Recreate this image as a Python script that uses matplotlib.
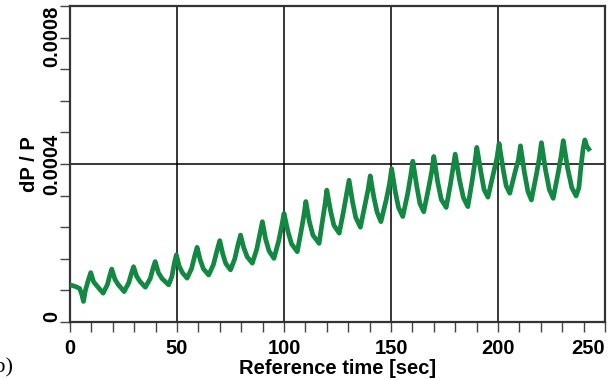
import matplotlib
matplotlib.use("Agg")
import matplotlib.pyplot as plt
from matplotlib.ticker import MultipleLocator, FixedLocator
import numpy as np

# Reference time [sec]
time_s = [
    0, 2.5, 4.5, 5.5, 6.3, 7.2, 8.5, 9.7, 11.0, 12.5, 15.5,
    17.5, 18.7, 19.5, 21.0, 22.5, 25.3,
    27.5, 28.8, 29.7, 31.2, 32.8, 35.2,
    37.5, 38.9, 39.8, 41.3, 43.0, 46.1,
    47.6, 48.8, 49.7, 51.0, 52.5, 54.7,
    56.8, 58.4, 59.4, 60.8, 62.3, 64.8,
    67.0, 68.9, 70.0, 71.4, 72.8, 75.0,
    77.0, 78.7, 79.7, 81.2, 82.8, 85.2,
    87.3, 88.8, 89.9, 91.4, 93.0, 95.3,
    97.5, 99.0, 100.0, 101.8, 103.5, 106.2,
    108.0, 109.3, 110.2, 111.8, 113.5, 116.4,
    117.8, 119.1, 120.0, 121.8, 123.3, 125.8,
    127.8, 129.3, 130.4, 132.0, 133.5, 135.7,
    137.8, 139.3, 140.3, 142.0, 143.5, 145.3,
    147.8, 149.3, 150.3, 152.0, 153.5, 155.5,
    157.8, 159.2, 160.2, 162.0, 163.5, 165.3,
    167.6, 169.0, 170.0, 171.8, 173.5, 175.8,
    177.8, 179.0, 180.0, 182.0, 183.8, 185.9,
    188.0, 189.2, 190.1, 192.0, 193.5, 195.3,
    198.0, 199.5, 200.5, 202.3, 203.8, 205.5,
    208.0, 209.5, 210.5, 212.3, 214.0, 215.6,
    218.0, 219.3, 220.3, 222.2, 224.0, 225.8,
    228.2, 229.5, 230.5, 232.5, 234.5, 236.5,
    237.8, 238.7, 239.8, 240.6, 241.5, 242.4,
]

# dP / P in units of 1e-4
dp_p_e4 = [
    0.94, 0.90, 0.85, 0.70, 0.52, 0.80, 1.05, 1.25, 1.02, 0.92, 0.73,
    0.95, 1.20, 1.34, 1.08, 0.95, 0.77,
    1.00, 1.25, 1.40, 1.15, 1.02, 0.88,
    1.10, 1.38, 1.53, 1.25, 1.10, 0.94,
    1.15, 1.50, 1.70, 1.42, 1.25, 1.11,
    1.35, 1.70, 1.89, 1.58, 1.35, 1.19,
    1.45, 1.85, 2.06, 1.72, 1.48, 1.32,
    1.60, 2.00, 2.20, 1.88, 1.65, 1.49,
    1.85, 2.25, 2.54, 2.10, 1.80, 1.61,
    2.05, 2.45, 2.75, 2.30, 1.98, 1.78,
    2.30, 2.70, 3.05, 2.55, 2.20, 1.99,
    2.50, 2.95, 3.34, 2.80, 2.45, 2.25,
    2.80, 3.25, 3.59, 3.05, 2.65, 2.40,
    2.95, 3.35, 3.70, 3.15, 2.78, 2.54,
    3.10, 3.50, 3.88, 3.30, 2.90, 2.67,
    3.25, 3.70, 4.07, 3.45, 3.00, 2.79,
    3.40, 3.80, 4.19, 3.55, 3.10, 2.90,
    3.50, 3.90, 4.25, 3.60, 3.15, 2.92,
    3.60, 4.05, 4.42, 3.80, 3.35, 3.16,
    3.80, 4.15, 4.52, 3.90, 3.45, 3.26,
    3.80, 4.10, 4.46, 3.80, 3.30, 3.09,
    3.75, 4.15, 4.54, 3.85, 3.35, 3.13,
    3.80, 4.20, 4.59, 3.90, 3.40, 3.19,
    3.40, 3.90, 4.40, 4.61, 4.45, 4.38,
]

x_major = [0, 50, 100, 150, 200, 250]
y_major = [0, 0.0004, 0.0008]
y_tick_labels = ["0", "0.0004", "0.0008"]

FONT = ["Liberation Sans", "DejaVu Sans"]
plt.rcParams["font.family"] = FONT
plt.rcParams["font.weight"] = "bold"

fig = plt.figure(figsize=(6.10, 3.80), dpi=100)
ax = fig.add_axes([70 / 610, 1 - 322 / 380, 535 / 610, 316 / 380])

ax.plot(time_s, np.array(dp_p_e4) * 1e-4, color="#138843", lw=3.4,
        solid_joinstyle="round", zorder=3)

ax.set_xlim(0, 250)
ax.set_ylim(0, 0.0008)
ax.xaxis.set_major_locator(FixedLocator(x_major))
ax.xaxis.set_minor_locator(MultipleLocator(10))
ax.yaxis.set_major_locator(FixedLocator(y_major))
ax.yaxis.set_minor_locator(MultipleLocator(0.00008))
ax.set_yticklabels(y_tick_labels, rotation=90)
ax.set_xticklabels([str(v) for v in x_major])

ax.grid(True, which="major", color="black", lw=1.1, zorder=1)

ax.tick_params(which="both", direction="out", length=7, width=1.0,
               color="#444444", labelsize=14.5)
ax.tick_params(axis="x", pad=5)
ax.tick_params(axis="y", pad=-1)

for sp in ax.spines.values():
    sp.set_linewidth(1.6)
    sp.set_color("#333333")

ax.set_xlabel("Reference time [sec]", fontsize=14.5, fontweight="bold", labelpad=1)
ax.set_ylabel("dP / P", fontsize=14.5, fontweight="bold", labelpad=3)

ylabels = ax.get_yticklabels()
ylabels[0].set_verticalalignment("bottom")
ylabels[1].set_verticalalignment("center")
ylabels[2].set_verticalalignment("top")
xlabels = ax.get_xticklabels()
xlabels[-1].set_horizontalalignment("right")

fig.text(13 / 610, 1 - 372 / 380, "(b)", ha="right", va="baseline",
         family="Liberation Serif", fontweight="normal", fontsize=16)

fig.savefig("out.png", dpi=100)
